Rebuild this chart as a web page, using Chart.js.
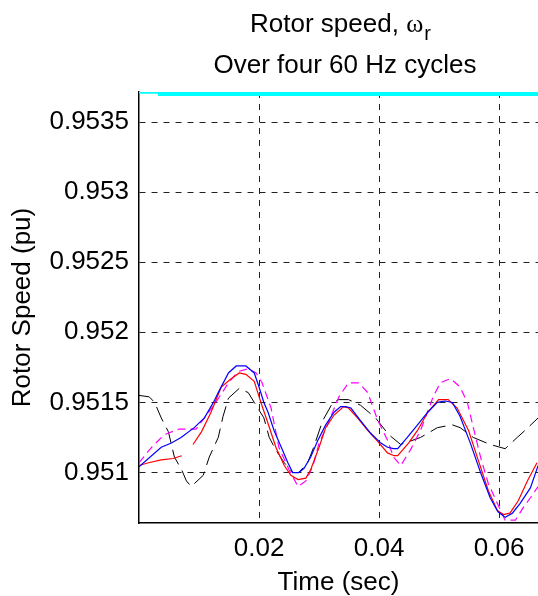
<!DOCTYPE html>
<html>
<head>
<meta charset="utf-8">
<script src="https://cdn.jsdelivr.net/npm/chart.js@4/dist/chart.umd.min.js"></script>
<style>
  html, body { margin: 0; padding: 0; background: #fff; }
</style>
</head>
<body>
<canvas id="speedChart" width="538" height="596"></canvas>
<script>
// axis ticks
const xTicks = [0.02, 0.04, 0.06];
const xTickLabels = ["0.02", "0.04", "0.06"];
const yTicks = [0.951, 0.9515, 0.952, 0.9525, 0.953, 0.9535];
const yTickLabels = ["0.951", "0.9515", "0.952", "0.9525", "0.953", "0.9535"];

// blue (solid)
const tBlue = [0, 0.0037, 0.0054, 0.0070, 0.0092, 0.0109, 0.0124, 0.0132, 0.0149, 0.0162, 0.0178, 0.0192, 0.0200, 0.0208, 0.0215, 0.0225, 0.0237, 0.0248, 0.0256, 0.0266, 0.0275, 0.0286, 0.0298, 0.0311, 0.0325, 0.0336, 0.0344, 0.0353, 0.0369, 0.0386, 0.0403, 0.0414, 0.0424, 0.0431, 0.0447, 0.0464, 0.0481, 0.0497, 0.0510, 0.0522, 0.0535, 0.0552, 0.0569, 0.0585, 0.0598, 0.0610, 0.0622, 0.0635, 0.0652, 0.0665];
const wBlue = [0.95104, 0.95118, 0.95121, 0.95125, 0.95132, 0.95139, 0.95150, 0.95157, 0.95171, 0.95176, 0.95176, 0.95171, 0.95161, 0.95150, 0.95143, 0.95130, 0.95118, 0.95107, 0.95100, 0.95100, 0.95103, 0.95111, 0.95123, 0.95134, 0.95143, 0.95147, 0.95147, 0.95146, 0.95137, 0.95128, 0.95121, 0.95118, 0.95117, 0.95117, 0.95125, 0.95134, 0.95143, 0.95150, 0.95151, 0.95150, 0.95140, 0.95121, 0.95100, 0.95082, 0.95072, 0.95068, 0.95071, 0.95078, 0.95089, 0.95105];

// red (solid, with a break near the start)
const tRed = [0, 0.0016, 0.0037, 0.0057, 0.0071, 0.0080, 0.0090, 0.0104, 0.0120, 0.0137, 0.0154, 0.0167, 0.0178, 0.0192, 0.0203, 0.0215, 0.0228, 0.0242, 0.0253, 0.0265, 0.0278, 0.0286, 0.0300, 0.0311, 0.0325, 0.0341, 0.0349, 0.0364, 0.0381, 0.0398, 0.0414, 0.0425, 0.0431, 0.0449, 0.0464, 0.0481, 0.0499, 0.0515, 0.0530, 0.0549, 0.0565, 0.0582, 0.0597, 0.0607, 0.0618, 0.0632, 0.0647, 0.0663];
const wRed = [0.95105, 0.95107, 0.95109, 0.95110, 0.95112, null, 0.95120, 0.95129, 0.95143, 0.95161, 0.95167, 0.95171, 0.95170, 0.95165, 0.95150, 0.95135, 0.95118, 0.95105, 0.95098, 0.95095, 0.95096, 0.95102, 0.95118, 0.95132, 0.95141, 0.95147, 0.95146, 0.95139, 0.95130, 0.95122, 0.95114, 0.95112, 0.95112, 0.95121, 0.95130, 0.95143, 0.95152, 0.95152, 0.95146, 0.95130, 0.95109, 0.95087, 0.95073, 0.95070, 0.95071, 0.95080, 0.95094, 0.95107];

// magenta (dashed)
const tMag = [0, 0.0021, 0.0042, 0.0067, 0.0095, 0.0109, 0.0125, 0.0149, 0.0165, 0.0182, 0.0195, 0.0205, 0.0220, 0.0233, 0.0250, 0.0265, 0.0278, 0.0290, 0.0300, 0.0315, 0.0333, 0.0349, 0.0366, 0.0381, 0.0398, 0.0414, 0.0424, 0.0436, 0.0452, 0.0469, 0.0490, 0.0502, 0.0519, 0.0535, 0.0547, 0.0557, 0.0569, 0.0582, 0.0597, 0.0610, 0.0627, 0.0640, 0.0652, 0.0665];
const wMag = [0.95107, 0.95118, 0.95127, 0.95131, 0.95131, 0.95139, 0.95148, 0.95164, 0.95172, 0.95174, 0.95171, 0.95164, 0.95146, 0.95118, 0.95102, 0.95090, 0.95094, 0.95105, 0.95121, 0.95135, 0.95154, 0.95164, 0.95164, 0.95157, 0.95137, 0.95123, 0.95111, 0.95105, 0.95116, 0.95130, 0.95154, 0.95164, 0.95167, 0.95161, 0.95150, 0.95132, 0.95111, 0.95092, 0.95078, 0.95066, 0.95066, 0.95075, 0.95082, 0.95090];

// black (broken dash-dot)
const tBlack = [0, 0.0017, 0.0026, 0.0037, 0.0049, 0.0059, 0.0071, 0.0079, 0.0087, 0.0107, 0.0117, 0.0132, 0.0140, 0.0149, 0.0167, 0.0182, 0.0192, 0.0208, 0.0217, 0.0228, 0.0242, 0.0256, 0.0266, 0.0281, 0.0291, 0.0306, 0.0323, 0.0333, 0.0349, 0.0369, 0.0394, 0.0416, 0.0436, 0.0469, 0.0497, 0.0522, 0.0535, 0.0557, 0.0585, 0.0610, 0.0630, 0.0643, 0.0665];
const wBlack = [0.95155, 0.95154, 0.95150, 0.95139, 0.95129, 0.95111, 0.95102, 0.95094, 0.95090, 0.95098, 0.95111, 0.95125, 0.95140, 0.95153, 0.95160, 0.95157, 0.95150, 0.95139, 0.95125, 0.95116, 0.95107, 0.95100, 0.95100, 0.95107, 0.95118, 0.95137, 0.95150, 0.95152, 0.95152, 0.95148, 0.95139, 0.95127, 0.95120, 0.95125, 0.95132, 0.95134, 0.95132, 0.95125, 0.95120, 0.95117, 0.95125, 0.95130, 0.95139];

// cyan (off the top of the axes)
const tCyan = [0, 0.0036, 0.0037, 0.0667];
const wCyan = [0.953730, 0.953730, 0.953714, 0.953714];

const xMin = 0, xMax = 0.06647;
const yMin = 0.95064, yMax = 0.953714;

const FONT = '"Liberation Sans", Arial, sans-serif';

function pts(t, w) {
  return t.map((x, i) => ({ x: x, y: w[i] }));
}

// two-line title with a subscripted omega
const titlePlugin = {
  id: "matlabTitle",
  afterDraw(chart) {
    const ctx = chart.ctx;
    ctx.save();
    ctx.fillStyle = "#000";
    ctx.textBaseline = "alphabetic";
    ctx.textAlign = "left";
    const part1 = "Rotor speed, ";
    ctx.font = "26px " + FONT;
    const w1 = ctx.measureText(part1).width;
    ctx.font = '26px "Liberation Serif", "Times New Roman", serif';
    const w2 = ctx.measureText("ω").width;
    ctx.font = "20px " + FONT;
    const w3 = ctx.measureText("r").width;
    let x = 340 - (w1 + w2 + w3) / 2;
    ctx.font = "26px " + FONT;
    ctx.fillText(part1, x, 32);
    x += w1;
    ctx.font = '26px "Liberation Serif", "Times New Roman", serif';
    ctx.fillText("ω", x, 32);
    x += w2;
    ctx.font = "20px " + FONT;
    ctx.fillText("r", x + 1, 40);
    ctx.font = "26px " + FONT;
    ctx.textAlign = "center";
    ctx.fillText("Over four 60 Hz cycles", 345, 73);
    ctx.restore();
  }
};

document.addEventListener("DOMContentLoaded", function () {
  const ctx = document.getElementById("speedChart").getContext("2d");
  new Chart(ctx, {
    type: "line",
    data: {
      datasets: [
        { data: pts(tBlue, wBlue), borderColor: "#0000ff", borderWidth: 1.2 },
        { data: pts(tRed, wRed), borderColor: "#ff0000", borderWidth: 1.2, spanGaps: false },
        { data: pts(tMag, wMag), borderColor: "#ff00ff", borderWidth: 1.2, borderDash: [8, 5] },
        { data: pts(tBlack, wBlack), borderColor: "#000000", borderWidth: 1, borderDash: [16, 7] },
        { data: pts(tCyan, wCyan), borderColor: "#00ffff", borderWidth: 8, clip: 0 }
      ]
    },
    options: {
      responsive: false,
      animation: false,
      devicePixelRatio: 1,
      layout: { padding: { top: 92, left: 0, right: 0, bottom: 0 } },
      elements: {
        point: { radius: 0 },
        line: { tension: 0, fill: false }
      },
      plugins: {
        legend: { display: false },
        tooltip: { enabled: false }
      },
      scales: {
        x: {
          type: "linear",
          min: xMin,
          max: xMax,
          afterBuildTicks: (s) => { s.ticks = xTicks.map((v) => ({ value: v })); },
          afterFit: (s) => { s.height = 73; },
          ticks: {
            autoSkip: false,
            maxRotation: 0,
            padding: 10,
            color: "#000",
            font: { family: FONT, size: 26 },
            callback: (v, i) => xTickLabels[i]
          },
          grid: { color: "#222", lineWidth: 1, drawTicks: false },
          border: { display: true, color: "#000", width: 1.5, dash: [6, 6] },
          title: {
            display: true,
            text: "Time (sec)",
            color: "#000",
            font: { family: FONT, size: 26, lineHeight: 1.0 },
            padding: { top: 0, bottom: 0 }
          }
        },
        y: {
          type: "linear",
          min: yMin,
          max: yMax,
          afterBuildTicks: (s) => { s.ticks = yTicks.map((v) => ({ value: v })); },
          afterFit: (s) => { s.width = 139; },
          ticks: {
            autoSkip: false,
            padding: 10,
            color: "#000",
            font: { family: FONT, size: 26 },
            callback: (v, i) => yTickLabels[i]
          },
          grid: { color: "#222", lineWidth: 1, drawTicks: false },
          border: { display: true, color: "#000", width: 1.5, dash: [6, 6] },
          title: {
            display: true,
            text: "Rotor Speed (pu)",
            color: "#000",
            font: { family: FONT, size: 26, lineHeight: 1.2 },
            padding: { top: 7, bottom: 0 }
          }
        }
      }
    },
    plugins: [titlePlugin]
  });
});
</script>
</body>
</html>
